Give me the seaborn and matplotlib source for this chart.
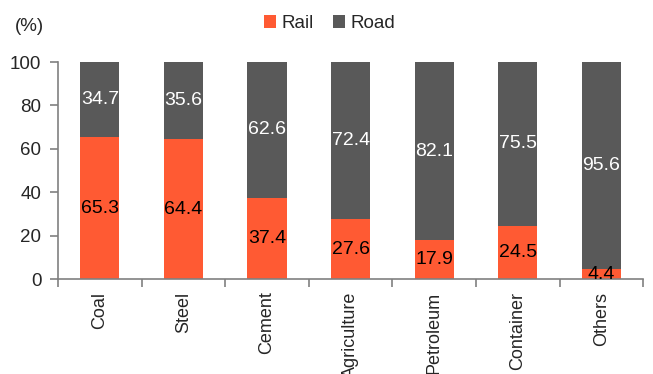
import matplotlib
matplotlib.use("Agg")
import matplotlib.pyplot as plt
import seaborn as sns
import pandas as pd
import numpy as np
from matplotlib.patches import Patch

categories = ["Coal", "Steel", "Cement", "Agriculture", "Petroleum", "Container", "Others"]
rail = [65.3, 64.4, 37.4, 27.6, 17.9, 24.5, 4.4]
road = [34.7, 35.6, 62.6, 72.4, 82.1, 75.5, 95.6]

RAIL_C = "#FF5A33"
ROAD_C = "#595959"
AXIS_C = "#808080"

sns.set_theme(style="white")
plt.rcParams["font.family"] = ["Liberation Sans", "DejaVu Sans"]

df = pd.DataFrame({"category": categories, "rail": rail, "road": road})
df["total"] = df["rail"] + df["road"]

fig = plt.figure(figsize=(6.53, 3.74), dpi=100)
ax = fig.add_axes([0.0888, 0.254, 0.8962, 0.58])

# Stacked bars: full height in road colour, rail share drawn over it
sns.barplot(data=df, x="category", y="total", color=ROAD_C, width=0.47,
            saturation=1, linewidth=0, ax=ax)
sns.barplot(data=df, x="category", y="rail", color=RAIL_C, width=0.47,
            saturation=1, linewidth=0, ax=ax)

for i, (r, d) in enumerate(zip(rail, road)):
    ax.text(i, r / 2, f"{r:.1f}", ha="center", va="center", fontsize=14, color="black")
    ax.text(i, r + d / 2, f"{d:.1f}", ha="center", va="center", fontsize=14, color="white")

ax.set_xlim(-0.5, 6.5)
ax.set_ylim(0, 100)
ax.set_yticks(np.arange(0, 101, 20))
ax.set_xlabel("")
ax.set_ylabel("")

for s in ["top", "right"]:
    ax.spines[s].set_visible(False)
for s in ["left", "bottom"]:
    ax.spines[s].set_color(AXIS_C)
    ax.spines[s].set_linewidth(1.2)

ax.set_xticks(range(len(categories)))
ax.set_xticklabels(categories, rotation=90, fontsize=13)
ax.set_xticks(np.arange(-0.5, 7.0, 1.0), minor=True)
ax.tick_params(axis="x", which="major", length=0, pad=9)
ax.tick_params(axis="x", which="minor", direction="out", length=6, width=1.2,
               color=AXIS_C, bottom=True)
ax.tick_params(axis="y", direction="out", length=6, width=1.2, color=AXIS_C,
               labelsize=13.5, pad=6, left=True)

fig.text(0.023, 0.93, "(%)", fontsize=13.5, va="center", ha="left")

handles = [Patch(facecolor=RAIL_C, edgecolor="none", label="Rail"),
           Patch(facecolor=ROAD_C, edgecolor="none", label="Road")]
fig.legend(handles=handles, loc="center", bbox_to_anchor=(0.505, 0.937), ncol=2,
           frameon=False, fontsize=13.5, handlelength=0.65, handleheight=0.65,
           handletextpad=0.3, columnspacing=1.0)

fig.savefig("out.png", dpi=100)
